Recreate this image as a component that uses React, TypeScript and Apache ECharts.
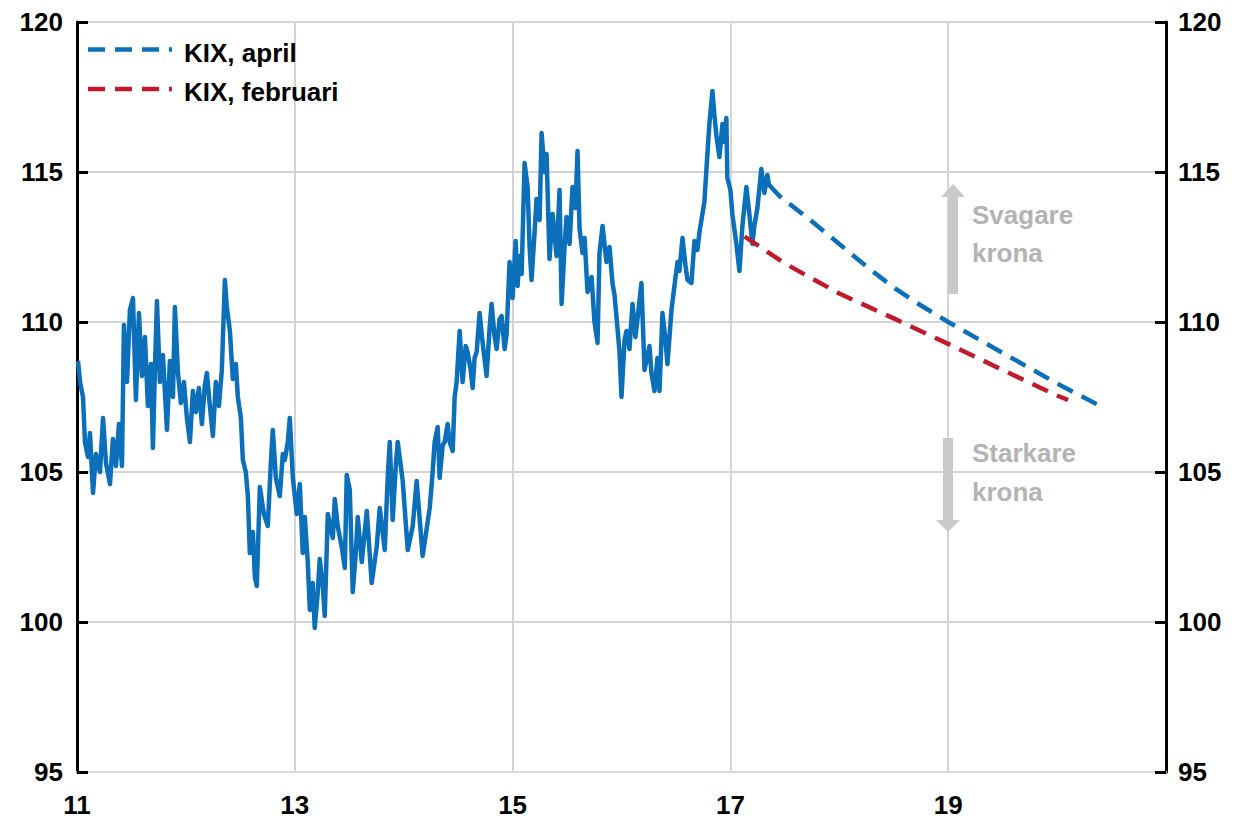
import React, { useEffect, useRef } from "react";
import * as echarts from "echarts";

// KIX index, historical (x = year 11..17 as decimal years, y = index)
const kix2011: [number, number][] = [
  [11.009,108.7],[11.028,108.0],[11.055,107.5],[11.073,106.0],[11.101,105.5],[11.119,106.3],[11.147,104.3],[11.174,105.6],[11.211,105.0],[11.239,106.8],[11.266,105.3],[11.303,104.6],[11.330,106.1],[11.358,105.2],[11.385,106.6],[11.413,105.2],[11.431,109.9],[11.459,108.0],[11.486,110.4],[11.514,110.8],[11.541,107.4],[11.569,110.3],[11.596,108.2],[11.624,109.5],[11.651,107.2],[11.679,108.6],[11.697,105.8],[11.716,108.5],[11.734,110.7],[11.761,108.0],[11.789,108.9],[11.826,106.4],[11.853,108.7],[11.881,107.5],[11.899,110.5],[11.927,108.3],[11.954,107.3],[11.982,108.0],
];
const kix2012: [number, number][] = [
  [12.009,106.8],[12.037,106.0],[12.064,107.7],[12.092,107.0],[12.119,107.8],[12.147,106.6],[12.174,107.9],[12.193,108.3],[12.220,107.2],[12.248,106.2],[12.275,108.0],[12.303,107.2],[12.330,108.4],[12.358,111.4],[12.376,110.5],[12.404,109.7],[12.431,108.1],[12.459,108.6],[12.477,107.5],[12.505,106.8],[12.523,105.4],[12.550,105.0],[12.569,104.2],[12.587,102.3],[12.615,103.0],[12.633,101.5],[12.651,101.2],[12.679,104.5],[12.716,103.6],[12.752,103.2],[12.780,105.3],[12.798,106.4],[12.826,104.8],[12.862,104.2],[12.890,105.6],[12.908,105.4],[12.936,106.0],[12.954,106.8],[12.982,104.8],
];
const kix2013: [number, number][] = [
  [13.018,103.6],[13.046,104.6],[13.073,102.3],[13.092,103.5],[13.119,102.0],[13.138,100.4],[13.165,101.3],[13.183,99.8],[13.211,101.0],[13.229,102.1],[13.257,101.2],[13.275,100.2],[13.303,103.6],[13.349,102.8],[13.367,104.1],[13.394,103.2],[13.431,102.5],[13.459,101.8],[13.477,104.9],[13.505,104.4],[13.532,101.0],[13.560,102.3],[13.578,103.5],[13.615,102.0],[13.642,103.0],[13.661,103.7],[13.706,101.3],[13.752,102.5],[13.780,103.8],[13.826,102.4],[13.853,104.8],[13.872,106.0],[13.899,103.4],[13.927,105.2],[13.945,106.0],[13.991,104.7],
];
const kix2014: [number, number][] = [
  [14.037,102.4],[14.083,103.2],[14.119,104.7],[14.174,102.2],[14.239,103.8],[14.266,105.0],[14.284,106.0],[14.312,106.5],[14.330,104.8],[14.358,105.9],[14.376,106.0],[14.404,106.6],[14.422,106.0],[14.450,105.7],[14.468,107.5],[14.486,108.0],[14.514,109.7],[14.541,108.0],[14.569,109.2],[14.587,109.0],[14.615,108.4],[14.633,107.8],[14.651,108.8],[14.670,109.0],[14.697,110.3],[14.725,109.3],[14.761,108.2],[14.789,109.8],[14.807,110.6],[14.835,109.5],[14.853,109.1],[14.881,110.1],[14.899,110.2],[14.927,109.1],[14.945,109.6],[14.972,112.0],
];
const kix2015: [number, number][] = [
  [15.000,110.8],[15.028,112.7],[15.046,111.2],[15.064,112.2],[15.083,111.6],[15.110,115.3],[15.138,114.5],[15.156,112.5],[15.174,111.4],[15.202,113.0],[15.220,114.1],[15.248,113.4],[15.266,116.3],[15.294,115.0],[15.312,115.6],[15.339,112.1],[15.367,113.6],[15.404,112.2],[15.431,114.4],[15.450,110.6],[15.477,112.5],[15.495,113.5],[15.523,112.6],[15.550,114.5],[15.578,113.8],[15.596,115.7],[15.615,113.1],[15.642,112.3],[15.661,112.8],[15.688,111.0],[15.725,111.5],[15.752,110.0],[15.780,109.3],[15.798,112.3],[15.826,113.2],[15.862,112.0],[15.890,112.5],[15.917,111.3],[15.936,110.9],[15.963,109.8],[15.982,109.0],
];
const kix2016: [number, number][] = [
  [16.000,107.5],[16.028,109.4],[16.046,109.7],[16.073,109.1],[16.101,110.6],[16.128,109.5],[16.147,110.1],[16.183,111.3],[16.211,108.4],[16.257,109.2],[16.275,108.3],[16.303,107.7],[16.330,108.8],[16.349,107.7],[16.376,110.3],[16.404,109.4],[16.422,108.6],[16.459,110.4],[16.486,111.2],[16.514,112.0],[16.532,111.7],[16.560,112.8],[16.587,111.9],[16.606,111.4],[16.642,111.3],[16.670,112.7],[16.697,112.4],[16.716,113.0],[16.743,113.6],[16.761,114.0],[16.780,115.1],[16.807,116.6],[16.835,117.7],[16.853,116.9],[16.872,116.2],[16.899,115.5],[16.927,116.6],[16.945,116.0],[16.963,116.8],[16.972,114.8],
];
const kix2017: [number, number][] = [
  [17.000,114.4],[17.018,113.6],[17.055,112.6],[17.083,111.7],[17.110,113.2],[17.147,114.5],[17.174,113.6],[17.202,112.6],[17.220,113.2],[17.248,113.8],[17.284,115.1],[17.312,114.3],[17.339,114.9],[17.358,114.5],
];

// Forecasts
const kixApril: [number, number][] = [
  [17.36,114.55],[17.45,114.2],[17.75,113.35],[18.0,112.6],[18.25,111.85],[18.5,111.15],[18.75,110.55],[19.0,110.0],[19.5,108.97],[20.0,107.95],[20.37,107.25],
];
const kixFebruari: [number, number][] = [
  [17.13,112.85],[17.5,111.95],[18.0,110.95],[18.5,110.12],[19.0,109.27],[19.5,108.4],[20.0,107.55],[20.1,107.4],
];

const seriesNames = ["KIX", "KIX, april", "KIX, februari"];
const yMin = 95, yMax = 120, yStep = 5;
const xMin = 11, xMax = 21, xStep = 2;

const BLUE = "#0b6fba";
const RED = "#c01a2c";
const FONT = "'Liberation Sans', Arial, sans-serif";

export default function App() {
  const ref = useRef<HTMLDivElement>(null);
  useEffect(() => {
    if (!ref.current) return;
    const chart = echarts.init(ref.current, null, { renderer: "svg" });
    const history = [...kix2011, ...kix2012, ...kix2013, ...kix2014, ...kix2015, ...kix2016, ...kix2017];
    const yLabel = {
      fontFamily: FONT,
      fontWeight: "bold" as const,
      fontSize: 26,
      color: "#000",
    };
    chart.setOption({
      animation: false,
      backgroundColor: "#fff",
      grid: { left: 77, right: 68, top: 22, bottom: 52, containLabel: false },
      legend: {
        data: [seriesNames[1], seriesNames[2]],
        orient: "vertical",
        left: 86,
        top: 35,
        itemWidth: 84,
        itemHeight: 14,
        itemGap: 13,
        itemStyle: { opacity: 0 },
        lineStyle: { opacity: 0 },
        textStyle: { fontFamily: FONT, fontWeight: "bold", fontSize: 26, color: "#000", lineHeight: 26, padding: [0, 0, 0, 3] },
      },
      xAxis: {
        type: "value",
        min: xMin,
        max: xMax,
        interval: xStep,
        axisLine: { show: true, lineStyle: { color: "#d9d9d9", width: 2 } },
        axisTick: { show: false },
        splitLine: { show: true, lineStyle: { color: "#d4d4d4", width: 2 } },
        axisLabel: {
          ...yLabel,
          margin: 20,
          formatter: (v: number) => (v >= xMax ? "" : String(v)),
        },
      },
      yAxis: [
        {
          type: "value",
          min: yMin,
          max: yMax,
          interval: yStep,
          axisLine: { show: true, lineStyle: { color: "#000", width: 3 } },
          axisTick: { show: true, inside: true, length: 11, lineStyle: { color: "#000", width: 3 } },
          splitLine: { show: true, lineStyle: { color: "#d4d4d4", width: 2 } },
          axisLabel: { ...yLabel, margin: 14 },
        },
        {
          type: "value",
          position: "right",
          min: yMin,
          max: yMax,
          interval: yStep,
          axisLine: { show: true, lineStyle: { color: "#000", width: 3 } },
          axisTick: { show: true, inside: true, length: 11, lineStyle: { color: "#000", width: 3 } },
          splitLine: { show: false },
          axisLabel: { ...yLabel, margin: 12 },
        },
      ],
      series: [
        {
          name: seriesNames[0],
          type: "line",
          data: history,
          showSymbol: false,
          symbol: "none",
          lineStyle: { color: BLUE, width: 4.5, join: "round" },
          itemStyle: { color: BLUE },
          z: 3,
        },
        {
          name: seriesNames[1],
          type: "line",
          data: kixApril,
          symbol: "none",
          lineStyle: { color: BLUE, width: 4.5, type: [17, 10] },
          itemStyle: { color: BLUE },
          z: 4,
        },
        {
          name: seriesNames[2],
          type: "line",
          data: kixFebruari,
          symbol: "none",
          lineStyle: { color: RED, width: 4.5, type: [17, 10] },
          itemStyle: { color: RED },
          z: 4,
        },
      ],
      graphic: [
        // legend swatches (dashed lines)
        { type: "line", shape: { x1: 88, y1: 49.5, x2: 172, y2: 49.5 }, style: { stroke: BLUE, lineWidth: 4.5, lineDash: [17, 10] }, z: 10 },
        { type: "line", shape: { x1: 88, y1: 89, x2: 172, y2: 89 }, style: { stroke: RED, lineWidth: 4.5, lineDash: [17, 10] }, z: 10 },
        // annotation arrows
        { type: "rect", shape: { x: 948, y: 196, width: 10, height: 98 }, style: { fill: "#c9c9c9" }, z: 10 },
        { type: "polygon", shape: { points: [[941, 197], [965, 197], [953, 184]] }, style: { fill: "#c9c9c9" }, z: 10 },
        { type: "rect", shape: { x: 943, y: 438, width: 10, height: 83 }, style: { fill: "#c9c9c9" }, z: 10 },
        { type: "polygon", shape: { points: [[936, 520], [960, 520], [948, 532]] }, style: { fill: "#c9c9c9" }, z: 10 },
        {
          type: "text",
          x: 972,
          y: 196,
          style: { text: "Svagare\nkrona", font: `bold 26px ${FONT}`, fill: "#b3b3b3", lineHeight: 38 },
          z: 10,
        },
        {
          type: "text",
          x: 972,
          y: 433,
          style: { text: "Starkare\nkrona", font: `bold 26px ${FONT}`, fill: "#b3b3b3", lineHeight: 39 },
          z: 10,
        },
      ],
    });
    return () => chart.dispose();
  }, []);
  return (
    <div
      ref={ref}
      style={{ position: "fixed", left: 0, top: 0, width: 1234, height: 824, background: "#fff" }}
    />
  );
}
